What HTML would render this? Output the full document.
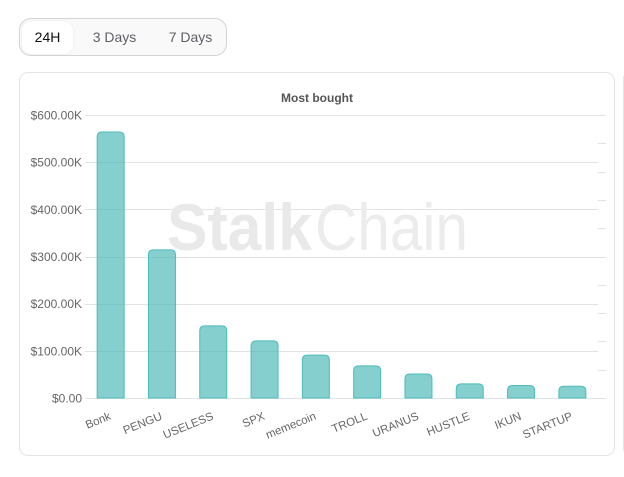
<!DOCTYPE html>
<html>
<head>
<meta charset="utf-8">
<style>
html,body{margin:0;padding:0;background:#fff;}
body{width:624px;height:477px;overflow:hidden;position:relative;font-family:"Liberation Sans",sans-serif;}
#tabs{position:absolute;left:19px;top:18px;width:206px;height:36px;border:1px solid #d4d4d6;border-radius:12px;background:#f9f9fa;}
.tab{position:absolute;top:2px;height:33px;line-height:32px;text-align:center;font-size:14px;color:#5f5f66;border-radius:10px;}
#tab-24h{left:2px;width:51px;background:#fff;color:#111;box-shadow:0 0 2px rgba(0,0,0,.08);}
#tab-3d{left:60.5px;width:68px;}
#tab-7d{left:136.5px;width:68px;}
#card{position:absolute;left:19px;top:72px;width:594px;height:382px;border:1px solid #e4e4e8;border-radius:9px;background:#fff;}
#next-card-edge{position:absolute;left:623px;top:76px;width:1px;height:375px;background:#e6e6ea;}
#chart{position:absolute;left:0;top:0;}
</style>
</head>
<body>
<div id="tabs">
  <div class="tab" id="tab-24h">24H</div>
  <div class="tab" id="tab-3d">3 Days</div>
  <div class="tab" id="tab-7d">7 Days</div>
</div>
<div id="card"></div>
<div id="next-card-edge"></div>
<svg id="chart" width="624" height="477" xmlns="http://www.w3.org/2000/svg">
  <text x="317" y="102" text-anchor="middle" font-family="Liberation Sans, sans-serif" font-size="12" font-weight="700" fill="#555">Most bought</text>
  <g id="grid"></g>
  <g id="right-ticks"></g>
  <g font-family="Liberation Sans, sans-serif" font-size="66">
    <text x="167" y="250" font-weight="700" fill="#e9e9e9" textLength="145" lengthAdjust="spacingAndGlyphs">Stalk</text>
    <text x="315" y="250" fill="#ececec" textLength="153" lengthAdjust="spacingAndGlyphs">Chain</text>
  </g>
  <g id="y-labels"></g>
  <g id="bars"></g>
  <g id="x-labels"></g>
</svg>
<script>
const categories = ["Bonk","PENGU","USELESS","SPX","memecoin","TROLL","URANUS","HUSTLE","IKUN","STARTUP"];
const boughtValues = [564,314,153,121,91,68,51,30,26.5,25];
const yTickValues = [0,100,200,300,400,500,600];
const yTickLabels = ["$0.00","$100.00K","$200.00K","$300.00K","$400.00K","$500.00K","$600.00K"];
const rightTickValues = [0,1,2,3,4,5,6,7,8,9,10];

const NS = "http://www.w3.org/2000/svg";
const plot = {left:85, right:598, top:115, bottom:398};
function yScale(v){ return plot.bottom - (v / 600) * (plot.bottom - plot.top); }
function rightScale(v){ return plot.bottom - (v / 10) * (plot.bottom - plot.top); }
function xCenter(i){ return plot.left + (i + 0.5) * (plot.right - plot.left) / categories.length; }
function make(tag, attrs){
  const el = document.createElementNS(NS, tag);
  Object.keys(attrs).forEach(function(k){ el.setAttribute(k, attrs[k]); });
  return el;
}

const gridG = document.getElementById("grid");
yTickValues.forEach(function(v){
  const y = Math.round(yScale(v)) + 0.5;
  const coincides = v === 0 || v === 300 || v === 600;
  const line = make("line", {x1:plot.left, x2:coincides ? 606 : plot.right, y1:y, y2:y, stroke:"#e3e3e5", "stroke-width":1});
  
  
  gridG.appendChild(line);
});

const rightG = document.getElementById("right-ticks");
rightTickValues.forEach(function(v){
  if (v === 0 || v === 5 || v === 10) return;
  const y = Math.round(rightScale(v)) + 0.5;
  const line = make("line", {x1:598, x2:606, y1:y, y2:y, stroke:"#e3e3e5", "stroke-width":1});
  
  
  rightG.appendChild(line);
});

const yG = document.getElementById("y-labels");
yTickValues.forEach(function(v, i){
  const t = make("text", {x:82, y:yScale(v) + 4.5, "text-anchor":"end", "font-family":"Liberation Sans, sans-serif", "font-size":12, fill:"#666"});
  t.textContent = yTickLabels[i];
  
  
  yG.appendChild(t);
});

const barsG = document.getElementById("bars");
const barW = 27, r = 5;
boughtValues.forEach(function(v, i){
  const x0 = xCenter(i) - barW / 2, x1 = x0 + barW;
  const top = yScale(v), bot = plot.bottom;
  const p = make("path", {
    d: "M" + x0 + " " + bot + "V" + (top + r) + "Q" + x0 + " " + top + " " + (x0 + r) + " " + top +
       "H" + (x1 - r) + "Q" + x1 + " " + top + " " + x1 + " " + (top + r) + "V" + bot + "Z",
    fill: "rgba(62,180,178,0.63)", stroke: "#4dbcba", "stroke-width": 1
  });
  
  
  barsG.appendChild(p);
});

const xG = document.getElementById("x-labels");
categories.forEach(function(c, i){
  const cx = xCenter(i) + 1, cy = 419;
  const t = make("text", {x:cx, y:cy, "text-anchor":"end", "font-family":"Liberation Sans, sans-serif", "font-size":11.5, fill:"#666", transform:"rotate(-22 " + cx + " " + cy + ")"});
  t.textContent = c;
  
  
  xG.appendChild(t);
});
</script>
</body>
</html>
